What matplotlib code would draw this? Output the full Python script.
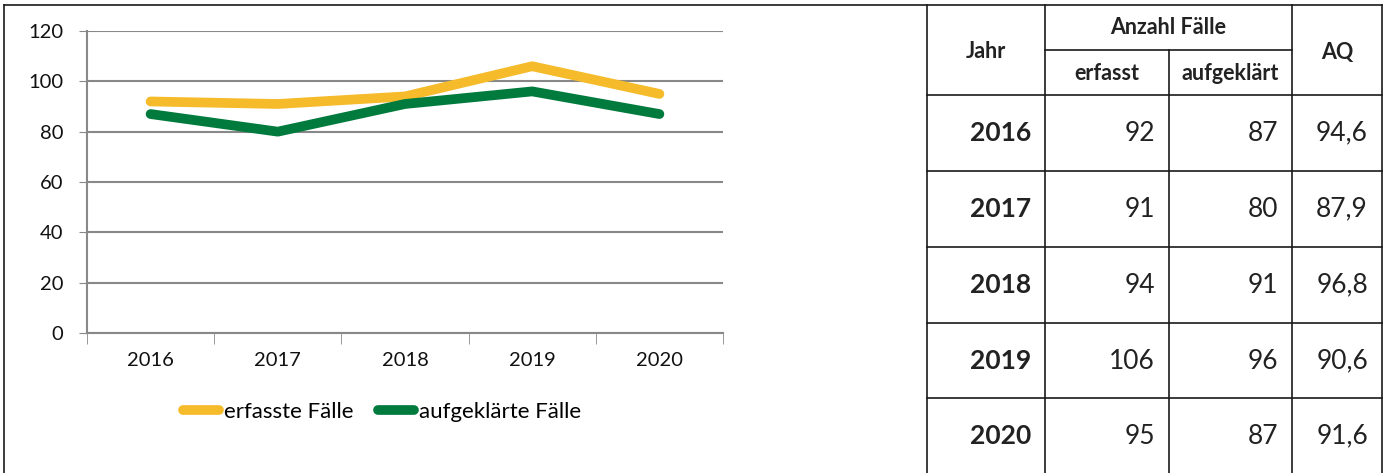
import matplotlib
matplotlib.use("Agg")
import matplotlib.pyplot as plt

plt.rcParams['font.family'] = ['Lato', 'DejaVu Sans']

years = ["2016", "2017", "2018", "2019", "2020"]
erfasst = [92, 91, 94, 106, 95]
aufgeklaert = [87, 80, 91, 96, 87]
aq = ["94,6", "87,9", "96,8", "90,6", "91,6"]

yellow = "#F6BB2A"
green = "#007A3D"
W, H = 1388, 473

fig = plt.figure(figsize=(W / 100, H / 100), dpi=100)

# overlay in pixel coordinates for frame + table
ov = fig.add_axes([0, 0, 1, 1])
ov.set_xlim(0, W)
ov.set_ylim(H, 0)
ov.axis("off")

lc = "#1a1a1a"
ov.plot([4, 4], [5, H], color=lc, lw=1.2)
ov.plot([4, 1382], [5, 5], color=lc, lw=1.2)

row_y = [95, 171, 247, 323, 398]
for x in [927, 1045, 1292, 1382]:
    ov.plot([x, x], [5, H], color=lc, lw=1.2)
ov.plot([1169, 1169], [50, H], color=lc, lw=1.2)
ov.plot([1045, 1292], [50, 50], color=lc, lw=1.2)
for y in row_y:
    ov.plot([927, 1382], [y, y], color=lc, lw=1.2)

hdr = dict(fontsize=15.5, fontweight="bold", color="#222222", va="center", ha="center")
ov.text(986, 52, "Jahr", **hdr)
ov.text(1168, 28, "Anzahl Fälle", **hdr)
ov.text(1107, 74, "erfasst", **hdr)
ov.text(1230, 74, "aufgeklärt", **hdr)
ov.text(1337, 52, "AQ", **hdr)

for i, yr in enumerate(years):
    yc = row_y[i] + 38
    ov.text(1031, yc, yr, fontsize=19, fontweight="bold", color="#222222", ha="right", va="center")
    ov.text(1155, yc, str(erfasst[i]), fontsize=19, color="#222222", ha="right", va="center")
    ov.text(1278, yc, str(aufgeklaert[i]), fontsize=19, color="#222222", ha="right", va="center")
    ov.text(1368, yc, aq[i], fontsize=19, color="#222222", ha="right", va="center")

# line chart
ax = fig.add_axes([87 / W, 1 - 333 / H, (723 - 87) / W, (333 - 31) / H])
x = range(len(years))
ax.plot(x, erfasst, color=yellow, lw=7, solid_capstyle="round", label="erfasste Fälle", zorder=3)
ax.plot(x, aufgeklaert, color=green, lw=7, solid_capstyle="round", label="aufgeklärte Fälle", zorder=3)

ax.set_xlim(-0.5, 4.5)
ax.set_ylim(0, 120)
ax.set_yticks(range(0, 121, 20))
ax.set_xticks(x)
ax.set_xticklabels(years)
ax.set_xticks([i - 0.5 for i in range(6)], minor=True)
ax.tick_params(axis="x", which="major", length=0, pad=14, labelsize=14.5, labelcolor="#111111")
ax.tick_params(axis="x", which="minor", length=8, color="#888888", direction="out")
ax.tick_params(axis="y", length=6, color="#888888", labelsize=14.5, pad=11, labelcolor="#111111")
ax.yaxis.grid(True, color="#888888", lw=1.5)
ax.set_axisbelow(True)
for s in ["top", "right"]:
    ax.spines[s].set_visible(False)
for s in ["left", "bottom"]:
    ax.spines[s].set_color("#888888")
    ax.spines[s].set_linewidth(1.5)

leg = ax.legend(loc="center", bbox_to_anchor=(0.464, -0.26), ncol=2, frameon=False,
                fontsize=16, handlelength=1.6, handletextpad=0.25, columnspacing=1.1)

fig.savefig("out.png", dpi=100)
